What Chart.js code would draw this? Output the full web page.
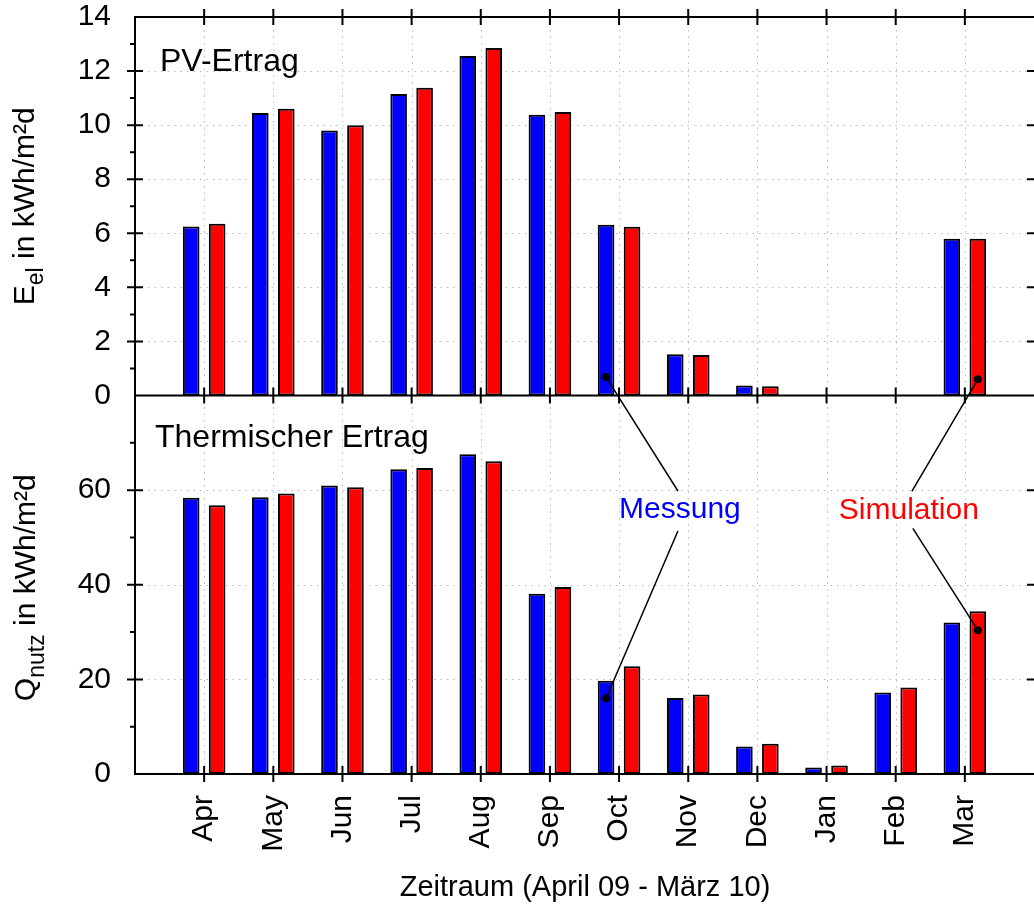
<!DOCTYPE html>
<html>
<head>
<meta charset="utf-8">
<script src="https://cdn.jsdelivr.net/npm/chart.js"></script>
<style>
  html, body { margin: 0; padding: 0; background: #fff; }
  canvas { display: block; }
</style>
</head>
<body>
<canvas id="chart" width="1034" height="911"></canvas>
<script>
// months April 2009 - March 2010
const months = ['Apr', 'May', 'Jun', 'Jul', 'Aug', 'Sep', 'Oct', 'Nov', 'Dec', 'Jan', 'Feb', 'Mar'];

// PV yield, kWh/m²d
const pvMessung    = [6.25, 10.45, 9.8, 11.15, 12.56, 10.38, 6.32, 1.53, 0.37, 0, 0, 5.8];
const pvSimulation = [6.35, 10.61, 10.0, 11.38, 12.85, 10.49, 6.24, 1.50, 0.34, 0, 0, 5.8];

// thermal yield, kWh/m²d
const thMessung    = [58.4, 58.5, 61.0, 64.4, 67.6, 38.1, 19.7, 16.05, 5.8, 1.4, 17.25, 32.0];
const thSimulation = [56.8, 59.3, 60.6, 64.7, 66.1, 39.5, 22.8, 16.8, 6.4, 1.8, 18.3, 34.4];

const pvTicks = [0, 2, 4, 6, 8, 10, 12, 14];
const thTicks = [0, 20, 40, 60];

const FONT = '"Liberation Sans", Arial, sans-serif';
const BLUE = '#0000ff', RED = '#ff0000';

// one empty slot before Apr and after Mar, like the original axis
const labels = [''].concat(months, ['']);
const pad = arr => [null].concat(arr, [null]);

function bars(label, data, color, axis, stack) {
  return {
    label: label,
    data: pad(data),
    backgroundColor: color,
    borderColor: '#000',
    borderWidth: 2,
    borderSkipped: false,
    yAxisID: axis,
    stack: stack,
    categoryPercentage: 0.751,
    barPercentage: 0.64
  };
}

function noPadding(s) {
  s.paddingLeft = s.paddingRight = s.paddingTop = s.paddingBottom = 0;
}

function vTitle(ctx, x, yc, main, sub, rest) {
  ctx.save();
  ctx.translate(x, yc);
  ctx.rotate(-Math.PI / 2);
  ctx.fillStyle = '#000';
  ctx.textBaseline = 'alphabetic';
  ctx.textAlign = 'left';
  ctx.font = '30px ' + FONT;
  const w1 = ctx.measureText(main).width;
  const w3 = ctx.measureText(rest).width;
  ctx.font = '23px ' + FONT;
  const w2 = ctx.measureText(sub).width;
  let s = -(w1 + w2 + w3) / 2;
  ctx.font = '30px ' + FONT;
  ctx.fillText(main, s, 0);
  ctx.font = '23px ' + FONT;
  ctx.fillText(sub, s + w1, 9);
  ctx.font = '30px ' + FONT;
  ctx.fillText(rest, s + w1 + w2, 0);
  ctx.restore();
}

const decor = {
  id: 'decor',
  beforeDatasetsDraw(chart) {
    const {ctx, chartArea: a, scales} = chart;
    ctx.save();
    ctx.strokeStyle = '#bbbbbb';
    ctx.lineWidth = 1;
    ctx.setLineDash([1.5, 5]);
    ctx.beginPath();
    months.forEach((m, i) => {
      const x = Math.round(scales.x.getPixelForValue(i + 1)) + 0.5;
      ctx.moveTo(x, a.top); ctx.lineTo(x, a.bottom);
    });
    pvTicks.slice(1, -1).forEach(v => {
      const y = Math.round(scales.yTop.getPixelForValue(v)) + 0.5;
      ctx.moveTo(a.left, y); ctx.lineTo(a.right, y);
    });
    thTicks.slice(1).forEach(v => {
      const y = Math.round(scales.yBot.getPixelForValue(v)) + 0.5;
      ctx.moveTo(a.left, y); ctx.lineTo(a.right, y);
    });
    ctx.stroke();
    ctx.restore();
  },
  afterDatasetsDraw(chart) {
    const {ctx, chartArea: a, scales} = chart;
    const yT = scales.yTop, yB = scales.yBot, x = scales.x;
    const mid = yT.getPixelForValue(0);
    ctx.save();
    ctx.strokeStyle = '#000';
    ctx.lineWidth = 2;
    ctx.beginPath();
    // frame
    ctx.moveTo(a.left, a.top); ctx.lineTo(a.right, a.top);
    ctx.moveTo(a.left, a.top - 1); ctx.lineTo(a.left, a.bottom + 1);
    ctx.moveTo(a.left, mid); ctx.lineTo(a.right, mid);
    ctx.moveTo(a.left, a.bottom); ctx.lineTo(a.right, a.bottom);
    // month ticks on top, middle and bottom lines
    months.forEach((m, i) => {
      const px = x.getPixelForValue(i + 1);
      [a.top, mid, a.bottom].forEach(y => {
        ctx.moveTo(px, y - 8); ctx.lineTo(px, y + 8);
      });
    });
    // value ticks
    const yTicks = (scale, major, minor) => {
      major.forEach(v => {
        const y = scale.getPixelForValue(v);
        ctx.moveTo(a.left - 8, y); ctx.lineTo(a.left + 8, y);
        ctx.moveTo(a.right - 7, y); ctx.lineTo(a.right, y);
      });
      minor.forEach(v => {
        const y = scale.getPixelForValue(v);
        ctx.moveTo(a.left - 5, y); ctx.lineTo(a.left, y);
      });
    };
    yTicks(yT, pvTicks.slice(1, -1), [1, 3, 5, 7, 9, 11, 13]);
    yTicks(yB, thTicks.slice(1), [10, 30, 50, 70]);
    ctx.stroke();

    // panel titles
    ctx.fillStyle = '#000';
    ctx.font = '32px ' + FONT;
    ctx.textAlign = 'left';
    ctx.textBaseline = 'alphabetic';
    ctx.fillText('PV-Ertrag', a.left + 25, 71);
    ctx.fillText('Thermischer Ertrag', a.left + 20, 447);

    // axis titles
    vTitle(ctx, 34, (a.top + mid) / 2, 'E', 'el', ' in kWh/m\u00b2d');
    vTitle(ctx, 35, (mid + a.bottom) / 2 + 3, 'Q', 'nutz', ' in kWh/m\u00b2d');
    ctx.font = '29px ' + FONT;
    ctx.textAlign = 'center';
    ctx.textBaseline = 'middle';
    ctx.fillText('Zeitraum (April 09 - M\u00e4rz 10)', 585, 888);

    // labels with leader lines
    const oct = months.indexOf('Oct') + 1, mar = months.indexOf('Mar') + 1;
    const bx = (di, idx) => chart.getDatasetMeta(di).data[idx].x;
    const mx = x.getPixelForValue(7.88), my = yB.getPixelForValue(55.8);
    const sx = x.getPixelForValue(11.19), sy = yB.getPixelForValue(55.7);
    const lines = [
      [mx - 2, my - 19, bx(0, oct), yT.getPixelForValue(0.68)],
      [mx - 2, my + 21, bx(2, oct), yB.getPixelForValue(16)],
      [sx + 3, sy - 19, bx(1, mar), yT.getPixelForValue(0.6)],
      [sx + 4, sy + 18, bx(3, mar), yB.getPixelForValue(30.4)]
    ];
    ctx.lineWidth = 1.5;
    ctx.beginPath();
    lines.forEach(l => { ctx.moveTo(l[0], l[1]); ctx.lineTo(l[2], l[3]); });
    ctx.stroke();
    lines.forEach(l => {
      ctx.beginPath();
      ctx.arc(l[2], l[3], 4, 0, Math.PI * 2);
      ctx.fill();
    });
    ctx.font = '30px ' + FONT;
    ctx.fillStyle = BLUE;
    ctx.fillText('Messung', mx, my);
    ctx.fillStyle = RED;
    ctx.fillText('Simulation', sx, sy);
    ctx.restore();
  }
};

new Chart(document.getElementById('chart'), {
  type: 'bar',
  data: {
    labels: labels,
    datasets: [
      bars('PV Messung', pvMessung, BLUE, 'yTop', 'mess'),
      bars('PV Simulation', pvSimulation, RED, 'yTop', 'sim'),
      bars('Thermisch Messung', thMessung, BLUE, 'yBot', 'mess'),
      bars('Thermisch Simulation', thSimulation, RED, 'yBot', 'sim')
    ]
  },
  options: {
    responsive: false,
    animation: false,
    layout: { padding: { top: 17, right: 0, bottom: 0, left: 0 } },
    plugins: { legend: { display: false }, tooltip: { enabled: false } },
    scales: {
      x: {
        type: 'category',
        stacked: true,
        offset: false,
        grid: { display: false, drawTicks: false },
        border: { display: false },
        ticks: {
          autoSkip: false,
          minRotation: 90,
          maxRotation: 90,
          padding: 21,
          color: '#000',
          font: { family: FONT, size: 30 }
        },
        afterFit: s => { s.height = 137; noPadding(s); }
      },
      yBot: {
        type: 'linear',
        position: 'left',
        stack: 'panels',
        stackWeight: 1,
        stacked: false,
        min: 0,
        max: 80,
        grid: { display: false, drawTicks: false },
        border: { display: false },
        ticks: {
          stepSize: 20,
          autoSkip: false,
          padding: 24,
          color: '#000',
          font: { family: FONT, size: 30 },
          callback: v => thTicks.includes(v) ? String(v) : ''
        },
        afterFit: s => { s.width = 135; noPadding(s); }
      },
      yTop: {
        type: 'linear',
        position: 'left',
        stack: 'panels',
        stackWeight: 1,
        stacked: false,
        min: 0,
        max: 14,
        grid: { display: false, drawTicks: false },
        border: { display: false },
        ticks: {
          stepSize: 2,
          autoSkip: false,
          padding: 24,
          color: '#000',
          font: { family: FONT, size: 30 },
          callback: v => pvTicks.includes(v) ? String(v) : ''
        },
        afterFit: s => { s.width = 135; noPadding(s); }
      }
    }
  },
  plugins: [decor]
});
</script>
</body>
</html>
